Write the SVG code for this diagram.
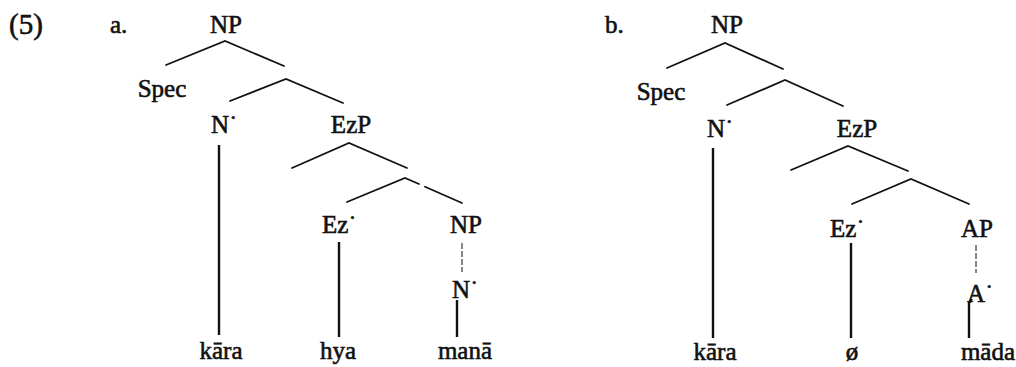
<svg xmlns="http://www.w3.org/2000/svg" width="1016" height="367" viewBox="0 0 1016 367">
<style>
  text { font-family: "Liberation Serif", "Times New Roman", serif; font-size: 25px; font-weight: normal; fill: #111; stroke: #111; stroke-width: 0.6; }
  .big { font-size: 29px; }
  .m { text-anchor: middle; }
  .br { stroke: #111; stroke-width: 1.8; fill: none; stroke-linecap: round; }
  .v { stroke: #111; stroke-width: 2.4; fill: none; }
  .thin { stroke: #111; stroke-width: 1; fill: none; stroke-dasharray: 6 2; }
</style>
<rect width="1016" height="367" fill="#fff"/>
<g id="labels">
  <text class="big" x="9" y="34">(5)</text>
  <text x="110" y="33">a.</text>
  <text x="605" y="33">b.</text>
</g>
<g id="tree-a">
  <g id="a-NP"><text class="m" x="226" y="33">NP</text></g>
  <g id="a-Spec"><text class="m" x="162" y="97">Spec</text></g>
  <g id="a-Nbar"><text x="211" y="133">N˙</text></g>
  <g id="a-EzP"><text class="m" x="351" y="133">EzP</text></g>
  <g id="a-Ezbar"><text x="322" y="233">Ez˙</text></g>
  <g id="a-NP2"><text class="m" x="466" y="233">NP</text></g>
  <g id="a-Nbar2"><text x="452" y="298">N˙</text></g>
  <g id="a-kara"><text class="m" x="221" y="359">kāra</text></g>
  <g id="a-hya"><text class="m" x="338" y="359">hya</text></g>
  <g id="a-mana"><text class="m" x="465" y="359">manā</text></g>
</g>
<g id="tree-b">
  <g id="b-NP"><text class="m" x="727" y="33">NP</text></g>
  <g id="b-Spec"><text class="m" x="661" y="100">Spec</text></g>
  <g id="b-Nbar"><text x="707" y="137">N˙</text></g>
  <g id="b-EzP"><text class="m" x="857" y="137">EzP</text></g>
  <g id="b-Ezbar"><text x="830" y="237">Ez˙</text></g>
  <g id="b-AP"><text class="m" x="977" y="237">AP</text></g>
  <g id="b-Abar"><text x="967" y="302">A˙</text></g>
  <g id="b-kara"><text class="m" x="715" y="360">kāra</text></g>
  <g id="b-null"><text class="m" x="852" y="360">ø</text></g>
  <g id="b-mada"><text class="m" x="988" y="360">māda</text></g>
</g>
<g id="connectors">
  <path class="br" d="M166 65 L225 41 L284 66"/>
  <path class="br" d="M230 101 L286 79 L343 103"/>
  <path class="br" d="M292 168 L349 143 L407 168"/>
  <path class="br" d="M347 202 L405 178 L419 184"/>
  <path class="br" d="M425 186.7 L462 203"/>
  <path class="v" d="M219 145 V335"/>
  <path class="v" d="M339 242 V337"/>
  <path class="thin" d="M462 243 V272"/>
  <path class="v" d="M457 300 V337"/>

  <path class="br" d="M667 68 L725 43 L783 69"/>
  <path class="br" d="M727 105 L785 80 L843 106"/>
  <path class="br" d="M791 170 L848 146 L908 171"/>
  <path class="br" d="M852 204 L911 179 L969 204"/>
  <path class="v" d="M713 148 V338"/>
  <path class="v" d="M851 243 V338"/>
  <path class="thin" d="M976 245 V273"/>
  <path class="v" d="M969 338 V303 L972 299"/>
</g>
</svg>
